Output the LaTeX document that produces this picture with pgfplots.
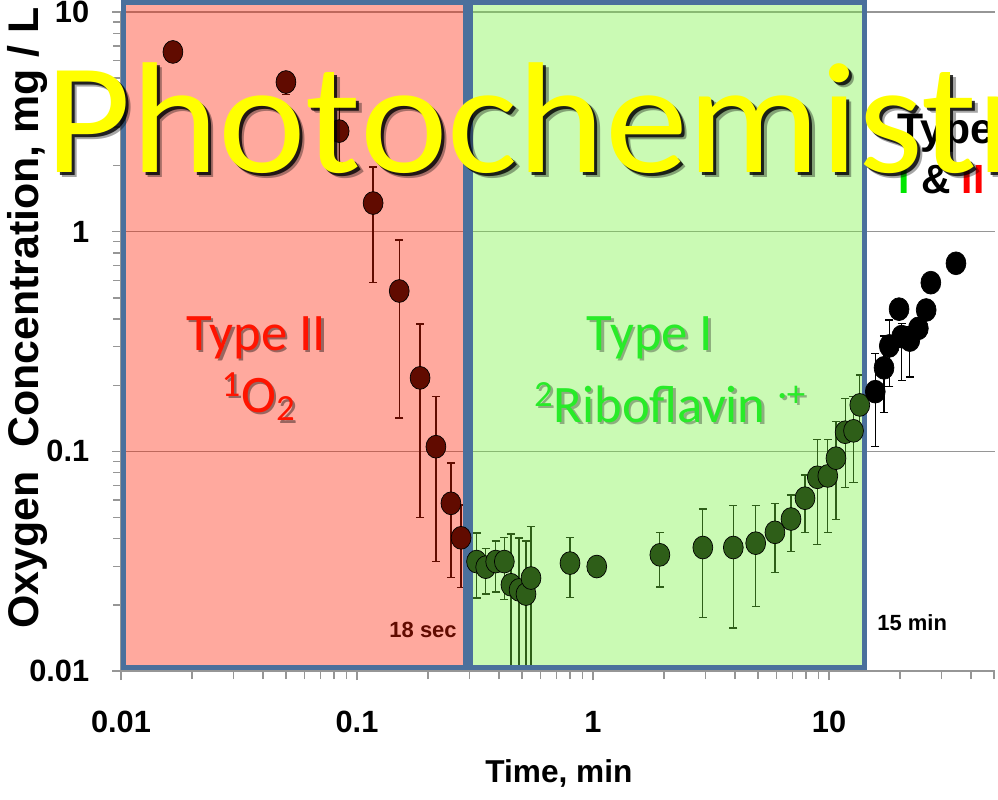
\documentclass[border=0pt]{standalone}
\usepackage{fontspec}
\setmainfont{Liberation Sans}
\newfontfamily\calibri{Carlito}
\usepackage{pgfplots}
\pgfplotsset{compat=1.18}
\usepackage{pgfplotstable}

\definecolor{overred}{RGB}{255,30,0}
\definecolor{overgreen}{RGB}{118,241,62}
\definecolor{frameblue}{RGB}{74,112,156}
\definecolor{axisgray}{RGB}{150,150,150}
\definecolor{txtred}{RGB}{255,20,0}
\definecolor{txtgreen}{RGB}{40,235,40}
\definecolor{ptred}{RGB}{97,11,0}
\definecolor{ptgreen}{RGB}{46,94,24}
\definecolor{brightgreen}{RGB}{0,230,0}

% time (min), O2 (mg/L), error up, error down
\pgfplotstableread{
x      y       ep      em
0.0166 6.58    0       0
0.050  4.80    0.40    0.60
0.084  2.87    0.90    0.81
0.117  1.35    0.62    0.765
0.151  0.537   0.379   0.395
0.185  0.216   0.164   0.166
0.216  0.105   0.072   0.0736
0.250  0.058   0.0305  0.0314
0.276  0.0404  0.0166  0.0164
}\typeII

\pgfplotstableread{
x      y       ep      em
0.321  0.0315  0.011   0.010
0.351  0.0297  0.0065  0.0073
0.387  0.0315  0.0076  0.0086
0.421  0.0315  0.0091  0.0103
0.449  0.0247  0.0174  0.0145
0.486  0.0234  0.0169  0.0132
0.520  0.0224  0.0167  0.0122
0.546  0.0265  0.0189  0.0163
0.799  0.031   0.0096  0.0094
1.037  0.0299  0       0
1.92   0.0338  0.009   0.0097
2.92   0.0365  0.0182  0.019
3.93   0.0365  0.0201  0.0208
4.89   0.0382  0.0184  0.0186
5.90   0.0428  0.0152  0.0147
6.90   0.0492  0.0141  0.0143
7.91   0.0612  0.0169  0.0184
8.92   0.0762  0.0373  0.0384
9.88   0.0773  0.0362  0.0345
10.7   0.0931  0.0434  0.044
11.7   0.1222  0.0523  0.0535
12.7   0.124   0.0535  0.0517
13.5   0.1627  0.060   0.040
}\typeI

\pgfplotstableread{
x      y       ep      em
15.7   0.187   0.093   0.082
17.1   0.240   0.095   0.090
18.0   0.302   0.094   0.105
19.8   0.444   0       0
20.3   0.333   0.050   0.122
22.0   0.321   0.050   0.103
23.9   0.363   0       0
25.8   0.440   0       0
27.0   0.586   0       0
34.5   0.718   0       0
}\typeboth

\pgfplotsset{
  pts/.style={only marks, mark=*, mark size=6.5pt,
    mark options={xscale=0.87, fill=#1, draw=none},
    error bars/.cd, y dir=both, y explicit,
    error bar style={line width=0.7pt, #1},
    error mark options={rotate=90, mark size=2.3pt, line width=0.7pt, #1}},
}

\begin{document}
\begin{tikzpicture}
\begin{axis}[
    at={(0,0)}, anchor=south west,
    scale only axis,
    width=17.48cm, height=13.18cm,
    xmode=log, ymode=log,
    xmin=0.01, xmax=50.5,
    ymin=0.01, ymax=10,
    axis x line=bottom, axis y line=left,
    axis line style={-, draw=axisgray, line width=0.9pt},
    xtick={0.01,0.1,1,10},
    xticklabels={0.01,0.1,1,10},
    ytick={0.01,0.1,1,10},
    yticklabels={0.01,0.1,1,10},
    minor xtick={0.02,0.03,0.04,0.05,0.06,0.07,0.08,0.09,0.2,0.3,0.4,0.5,0.6,0.7,0.8,0.9,2,3,4,5,6,7,8,9,20,30,40,50},
    minor ytick={0.02,0.03,0.04,0.05,0.06,0.07,0.08,0.09,0.2,0.3,0.4,0.5,0.6,0.7,0.8,0.9,2,3,4,5,6,7,8,9},
    tick align=outside,
    major tick length=0.18cm, minor tick length=0.16cm,
    tick style={draw=axisgray, line width=0.8pt},
    ymajorgrids,
    major grid style={draw=axisgray, line width=0.7pt},
    xticklabel style={font=\bfseries\fontsize{17.5}{20}\selectfont, anchor=north, inner sep=0pt, yshift=-0.62cm},
    yticklabel style={font=\bfseries\fontsize{17.5}{20}\selectfont, anchor=east, inner sep=0pt, xshift=-0.45cm},
    xlabel={Time, min},
    ylabel={Oxygen\hspace{0.55em}Concentration, mg / L},
    xlabel style={font=\bfseries\fontsize{18}{21}\selectfont, at={(axis description cs:0.501,0)}, anchor=center, yshift=-2.04cm},
    ylabel style={font=\bfseries\fontsize{24.4}{27}\selectfont, at={(axis description cs:-0.1064,0.536)}, anchor=center},
    clip=false,
]
% Type II / Type I windows (translucent fills)
\addplot[fill=overred, fill opacity=0.38, draw=none]
    coordinates {(0.0102,0.0104) (0.287,0.0104) (0.287,11.0) (0.0102,11.0)} -- cycle;
\addplot[fill=overgreen, fill opacity=0.39, draw=none]
    coordinates {(0.304,0.0104) (14.2,0.0104) (14.2,11.0) (0.304,11.0)} -- cycle;
% measurements
\addplot[pts=ptred] table[x=x, y=y, y error plus=ep, y error minus=em] {\typeII};
\addplot[pts=ptgreen] table[x=x, y=y, y error plus=ep, y error minus=em] {\typeI};
\addplot[pts=black] table[x=x, y=y, y error plus=ep, y error minus=em] {\typeboth};
% window frames
\addplot[draw=frameblue, line width=0.1cm]
    coordinates {(0.0102,0.0104) (0.287,0.0104) (0.287,11.0) (0.0102,11.0)} -- cycle;
\addplot[draw=frameblue, line width=0.1cm]
    coordinates {(0.304,0.0104) (14.2,0.0104) (14.2,11.0) (0.304,11.0)} -- cycle;
\end{axis}

\begin{scope}[shift={(-2.42cm,13.42cm)}, x=0.02cm, y=-0.02cm]
\tikzset{cal/.style={anchor=base, inner sep=0pt, font=\calibri\fontsize{30}{36}\selectfont}}
\node[cal, text=black, opacity=0.4] at (258.5,352.5) {Type II};
\node[cal, text=txtred] at (256,350) {Type II};
\node[cal, text=black, opacity=0.4] at (261,414.5) {\textsuperscript{1}O\textsubscript{2}};
\node[cal, text=txtred] at (258.5,412) {\textsuperscript{1}O\textsubscript{2}};
\node[cal, text=black, opacity=0.3] at (652.5,352.5) {Type I};
\node[cal, text=txtgreen] at (650,350) {Type I};
\node[cal, text=black, opacity=0.3] at (672.5,424.5) {\textsuperscript{2}Riboflavin \textsuperscript{·+}};
\node[cal, text=txtgreen] at (670,422) {\textsuperscript{2}Riboflavin \textsuperscript{·+}};

\node[anchor=base, inner sep=0pt, font=\bfseries\fontsize{12.5}{15}\selectfont, text=ptred] at (423,637) {18 sec};
\node[anchor=base, inner sep=0pt, font=\bfseries\fontsize{12.5}{15}\selectfont] at (912,630) {15 min};

\node[anchor=base west, inner sep=0pt, font=\bfseries\fontsize{24.3}{27}\selectfont] at (897,143) {Type};
\node[anchor=base west, inner sep=0pt, font=\bfseries\fontsize{23.2}{26}\selectfont] at (898,193)
    {\textcolor{brightgreen}{I} \& \textcolor{red}{II}};

\tikzset{big/.style={anchor=base west, inner sep=0pt, xscale=1.05, font=\calibri\fontsize{90}{100}\selectfont}}
\node[big, text=black, opacity=0.35] at (50.5,177.5) {Photochemistry};
\node[big, text=black, opacity=0.8] at (48,175) {Photochemistry};
\node[big, text={rgb,255:red,255;green,255;blue,0}] at (45,172) {Photochemistry};
\end{scope}

\pgfresetboundingbox
\path[use as bounding box] (-2.42,-2.56) rectangle (17.54,13.42);
\end{tikzpicture}
\end{document}
